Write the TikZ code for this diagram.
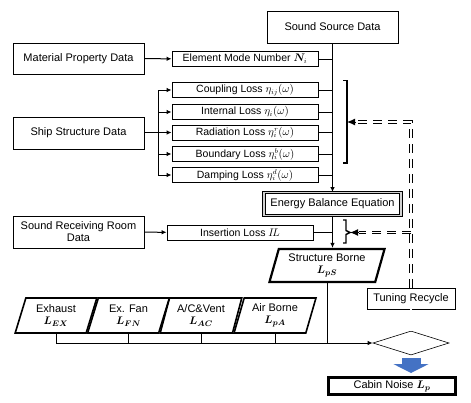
\documentclass[tikz,border=0pt]{standalone}
\usepackage{fontspec}
\setmainfont{Liberation Sans}
\usepackage{bm}
\usetikzlibrary{positioning,shapes.geometric,arrows.meta}

\definecolor{arrowblue}{RGB}{68,114,196}
\newcommand{\noiselevel}[1]{$\bm{L}_{\bm{#1}}$}

\tikzset{
	databox/.style={draw, line width=1pt, minimum width=131pt, minimum height=32pt, inner sep=1pt, align=center, font=\fontsize{11}{12}\selectfont},
	lossbox/.style={draw, line width=0.8pt, minimum width=146pt, minimum height=15pt, inner sep=0pt, font=\fontsize{10.5}{11}\selectfont},
	sourcepara/.style={draw, trapezium, trapezium left angle=72, trapezium right angle=108, trapezium stretches=true, minimum width=82pt, minimum height=35pt, line width=1.6pt, inner sep=0pt, align=center, font=\fontsize{11}{12}\selectfont},
	link/.style={line width=1pt},
	fbline/.style={double, double distance=1.8pt, line width=0.7pt, dash pattern=on 9pt off 6pt},
}

\begin{document}
\begin{tikzpicture}[x=1pt, y=-1pt, >={Latex[length=5pt,width=4.5pt]}]
	\useasboundingbox (0,0) rectangle (471,402);

	% Input data
	\node[databox] (source) at (332.5,27) {Sound Source Data};
	\node[databox, minimum height=31pt] (material) at (78.5,58.5) {Material Property Data};
	\node[databox] (ship) at (78.5,133) {Ship Structure Data};
	\node[databox] (room) at (78.5,232) {Sound Receiving Room\\Data};

	% Modes and loss factors
	\node[lossbox] (mode) at (245,59) {Element Mode Number $\bm{N}_i$};
	\node[lossbox] (coupling) at (245,90) {Coupling Loss $\eta_{ij}(\omega)$};
	\node[lossbox] (internal) at (245,112) {Internal Loss $\eta_i(\omega)$};
	\node[lossbox] (radiation) at (245,132.5) {Radiation Loss $\eta_i^r(\omega)$};
	\node[lossbox] (boundary) at (245,154) {Boundary Loss $\eta_i^b(\omega)$};
	\node[lossbox] (damping) at (245,175) {Damping Loss $\eta_i^d(\omega)$};
	\node[lossbox] (insertion) at (240,232.5) {Insertion Loss $I\!L$};

	% Energy balance and structure borne noise
	\node[databox, draw=black, double=gray!35, double distance=1.8pt, line width=0.8pt, minimum width=137pt, minimum height=23pt] (energy) at (332.5,204) {Energy Balance Equation};
	\node[sourcepara, minimum width=116pt, minimum height=33pt, line width=2.2pt] (structure) at (327,265.5) {Structure Borne\\\noiselevel{pS}};

	% Other noise sources
	\node[sourcepara] (exhaust) at (56,315.5) {Exhaust\\\noiselevel{EX}};
	\node[sourcepara] (fan) at (128.5,315.5) {Ex. Fan\\\noiselevel{FN}};
	\node[sourcepara] (vent) at (201,315.5) {A/C\&Vent\\\noiselevel{AC}};
	\node[sourcepara] (air) at (275,315.5) {Air Borne\\\noiselevel{pA}};

	% Tuning and result
	\node[databox, line width=0.8pt, minimum width=88pt, minimum height=21pt] (tuning) at (411,298.5) {Tuning Recycle};
	\node[diamond, draw, line width=0.6pt, minimum width=76pt, minimum height=24pt, inner sep=0pt] (sum) at (411,343) {};
	\node[databox, line width=3pt, minimum width=127pt, minimum height=17pt] (cabin) at (392,386) {Cabin Noise \noiselevel{p}};

	% Data flow
	\draw[link,->] (material) -- (mode);
	\draw[link,->] (room) -- (insertion);
	\draw[link,->] (source) -- (energy);
	\draw[link] (mode.east) -- (mode.east -| source.south);
	\foreach \n in {coupling,internal,radiation,boundary,damping}
		\draw[link] (\n.east) -- (\n.east -| source.south);
	\coordinate (shipbranch) at (158,132.5);
	\draw[link] (ship.east |- shipbranch) -- (shipbranch);
	\draw[link] (shipbranch |- coupling.west) -- (shipbranch |- damping.west);
	\foreach \n in {coupling,internal,radiation,boundary,damping}
		\draw[link,->] (shipbranch |- \n.west) -- (\n.west);
	\draw[link,->] (energy) -- (energy.south |- structure.north);
	\draw[link] (insertion.east) -- (insertion.east -| energy.south);

	% Collecting the sources
	\draw[link,->] (exhaust.south) -- (exhaust.south |- sum.west) -- (sum.west);
	\foreach \n in {fan,vent,air,structure}
		\draw[link] (\n.south) -- (\n.south |- sum.west);
	\draw[double, double distance=1.5pt, line width=0.6pt] (tuning) -- (sum);
	\draw[line width=19pt, arrowblue, -{Triangle[length=9pt,width=35pt]}, shorten <=3pt, shorten >=3pt] (sum.south) -- (sum.south |- cabin.north);

	% Feedback to the loss factors
	\coordinate (upbracket) at (347,122);
	\coordinate (lowbracket) at (350,232.5);
	\draw[line width=1.6pt] (343,80.5) -- (347,80.5) -- (347,163) -- (343,163);
	\draw[line width=1.4pt] (343,220) -- (346,220) -- (346,230.5) -- (lowbracket) -- (346,234.5) -- (346,243) -- (343,243);
	\draw[fbline] (tuning.north) -- (tuning.north |- upbracket) -- ([xshift=9pt]upbracket);
	\draw[fbline] (tuning.north |- lowbracket) -- ([xshift=9pt]lowbracket);
	\draw[line width=1pt, -{Latex[length=8pt,width=7pt]}] ([xshift=9pt]upbracket) -- (upbracket);
	\draw[line width=1pt, -{Latex[length=8pt,width=7pt]}] ([xshift=9pt]lowbracket) -- (lowbracket);
\end{tikzpicture}
\end{document}
